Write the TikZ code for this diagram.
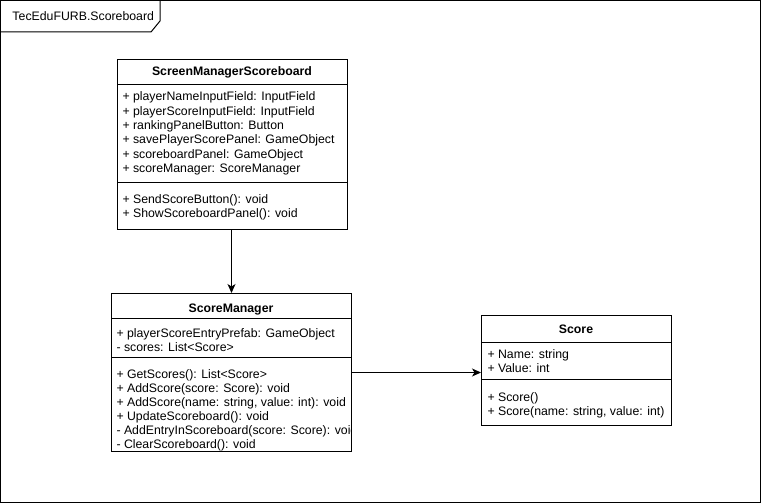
\documentclass[tikz,border=0pt]{standalone}
\usepackage{fontspec}
\setmainfont{Liberation Sans}
\usetikzlibrary{arrows.meta}
\begin{document}
\begin{tikzpicture}[x=1pt,y=-1pt,line width=1pt,
  txt/.style={anchor=base west,inner sep=0pt,font=\fontsize{12.3}{14}\selectfont},
  ttl/.style={anchor=base,inner sep=0pt,font=\fontsize{12.3}{14}\selectfont\bfseries},
  classbox/.style={draw,inner sep=0pt,anchor=north west},
  arr/.style={-{Stealth[length=9pt,width=8pt,inset=2.5pt]}}]
\useasboundingbox (0,0) rectangle (761,503);

% package frame with its name tab
\draw (0.5,0.5) rectangle (760.5,502.5);
\draw (0.5,32) -- (151,32) -- (160,21) -- (160,0.5);
\node[txt] (pkg) at (12,21) {TecEduFURB.Scoreboard};

% class ScreenManagerScoreboard
\node[classbox,minimum width=230pt,minimum height=170pt] (smsb) at (117,59) {};
\draw (smsb.west |- 0,84.5) -- (smsb.east |- 0,84.5);
\draw (smsb.west |- 0,182.5) -- (smsb.east |- 0,182.5);
\node[ttl] (smsbT) at (232,76) {ScreenManagerScoreboard};
\node[txt] (smsbA1) at (122,101) {+ playerNameInputField: InputField};
\node[txt] (smsbA2) at (122,115) {+ playerScoreInputField: InputField};
\node[txt] (smsbA3) at (122,129) {+ rankingPanelButton: Button};
\node[txt] (smsbA4) at (122,143) {+ savePlayerScorePanel: GameObject};
\node[txt] (smsbA5) at (122,158) {+ scoreboardPanel: GameObject};
\node[txt] (smsbA6) at (122,172) {+ scoreManager: ScoreManager};
\node[txt] (smsbM1) at (122,203) {+ SendScoreButton(): void};
\node[txt] (smsbM2) at (122,217) {+ ShowScoreboardPanel(): void};

% class ScoreManager (member lines are cut off at the right border)
\node[classbox,minimum width=240pt,minimum height=158pt] (sm) at (111,293) {};
\draw (sm.west |- 0,318.5) -- (sm.east |- 0,318.5);
\draw (sm.west |- 0,357.5) -- (sm.east |- 0,357.5);
\node[ttl] (smT) at (231,312) {ScoreManager};
\begin{scope}
  \clip (111,293) rectangle (350,451);
  \node[txt] (smA1) at (116,337) {+ playerScoreEntryPrefab: GameObject};
  \node[txt] (smA2) at (116,351) {- scores: List<Score>};
  \node[txt] (smM1) at (116,378) {+ GetScores(): List<Score>};
  \node[txt] (smM2) at (116,392) {+ AddScore(score: Score): void};
  \node[txt] (smM3) at (116,406) {+ AddScore(name: string, value: int): void};
  \node[txt] (smM4) at (116,420) {+ UpdateScoreboard(): void};
  \node[txt] (smM5) at (116,434) {- AddEntryInScoreboard(score: Score): void};
  \node[txt] (smM6) at (116,448) {- ClearScoreboard(): void};
\end{scope}

% class Score
\node[classbox,minimum width=190pt,minimum height=110pt] (score) at (481,315) {};
\draw (score.west |- 0,342.5) -- (score.east |- 0,342.5);
\draw (score.west |- 0,379.5) -- (score.east |- 0,379.5);
\node[ttl] (scoreT) at (576,333) {Score};
\node[txt] (scoreA1) at (487,358) {+ Name: string};
\node[txt] (scoreA2) at (487,372) {+ Value: int};
\node[txt] (scoreM1) at (487,401) {+ Score()};
\node[txt] (scoreM2) at (487,415) {+ Score(name: string, value: int)};

% associations
\draw[arr] (sm.north |- smsb.south) -- (sm.north);
\draw[arr] (sm.east) -- (sm.east -| score.west);
\end{tikzpicture}
\end{document}
